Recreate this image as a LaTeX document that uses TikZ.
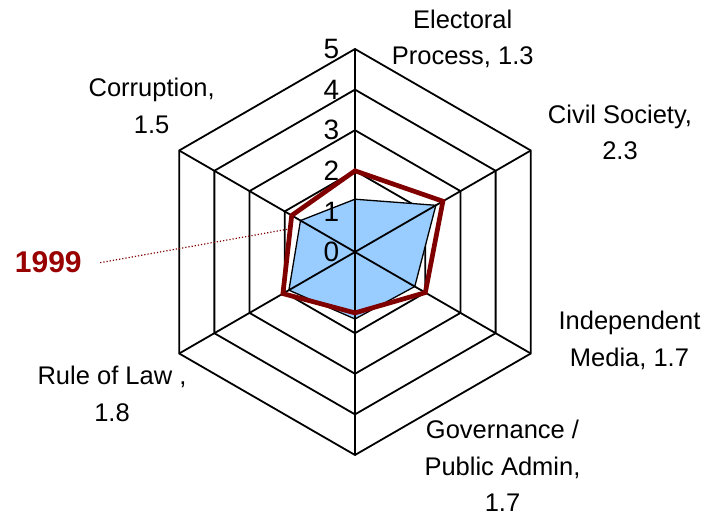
\documentclass[tikz,border=0pt]{standalone}
\usepackage{fontspec}
\setmainfont{Liberation Sans}
\usetikzlibrary{calc}
\definecolor{maroonline}{RGB}{128,0,0}
\definecolor{maroontext}{RGB}{153,0,0}
\definecolor{skyfill}{RGB}{153,204,255}

\begin{document}
\begin{tikzpicture}[x=1pt, y=1pt,
	grid/.style = {line width=1.8pt, line join=miter},
	catlabel/.style = {font=\fontsize{25.5}{36.7}\selectfont, align=center, anchor=base},
	ticklabel/.style = {font=\fontsize{28}{28}\selectfont, anchor=east, inner sep=0pt}]
	\useasboundingbox (-355, -266) rectangle (364, 252);

	% hexagonal rings
	\foreach \r in {1, ..., 5}
		\draw[grid] (90:{\r*40.6}) -- (30:{\r*40.6}) -- (-30:{\r*40.6}) -- (-90:{\r*40.6}) -- (-150:{\r*40.6}) -- (150:{\r*40.6}) -- cycle;

	% current scores
	\filldraw[fill=skyfill, line width=1.3pt, line join=miter] (90:{1.3*40.6}) -- (30:{2.3*40.6}) -- (-30:{1.7*40.6}) -- (-90:{1.65*40.6}) -- (-150:{1.88*40.6}) -- (150:{1.55*40.6}) -- cycle;

	% spokes
	\coordinate (o) at (0, 0);
	\foreach \a in {90, 30, -30}
		\draw[grid] (\a:203) -- (o) -- (\a+180:203);

	% 1999 scores
	\coordinate (r1) at (90:{2.0*40.6});
	\coordinate (r2) at (30:{2.5*40.6});
	\coordinate (r3) at (-30:{2.0*40.6});
	\coordinate (r4) at (-90:{1.5*40.6});
	\coordinate (r5) at (-150:{2.05*40.6});
	\coordinate (r6) at (150:{1.8*40.6});
	\draw[maroonline, line width=4.7pt, line join=miter] (r1) -- (r2) -- (r3) -- (r4) -- (r5) -- (r6) -- cycle;

	\foreach \k in {0, ..., 5}
		\node[ticklabel] (t\k) at (-15.5, {\k*40.6}) {\k};

	% anchored at the baseline of the last line
	\node[catlabel] (electoral) at (107.7, 187) {Electoral\\Process, 1.3};
	\node[catlabel] (civil) at (265, 92) {Civil Society,\\2.3};
	\node[catlabel] (media) at (274.5, -114.7) {Independent\\Media, 1.7};
	\node[catlabel] (governance) at (147.5, -259.7) {Governance /\\Public Admin,\\1.7};
	\node[catlabel] (law) at (-243, -169.7) {Rule of Law ,\\1.8};
	\node[catlabel] (corruption) at (-203.3, 118.7) {Corruption,\\1.5};

	\node[font=\fontsize{30}{30}\selectfont\bfseries, text=maroontext, anchor=base] (y1999) at (-306.7, -21) {1999};
	\draw[maroonline, line width=1.2pt, dash pattern=on 1.2pt off 2pt] ([xshift=15pt]y1999.east) -- ($(r6)!0.17!(r5)$);
\end{tikzpicture}
\end{document}
